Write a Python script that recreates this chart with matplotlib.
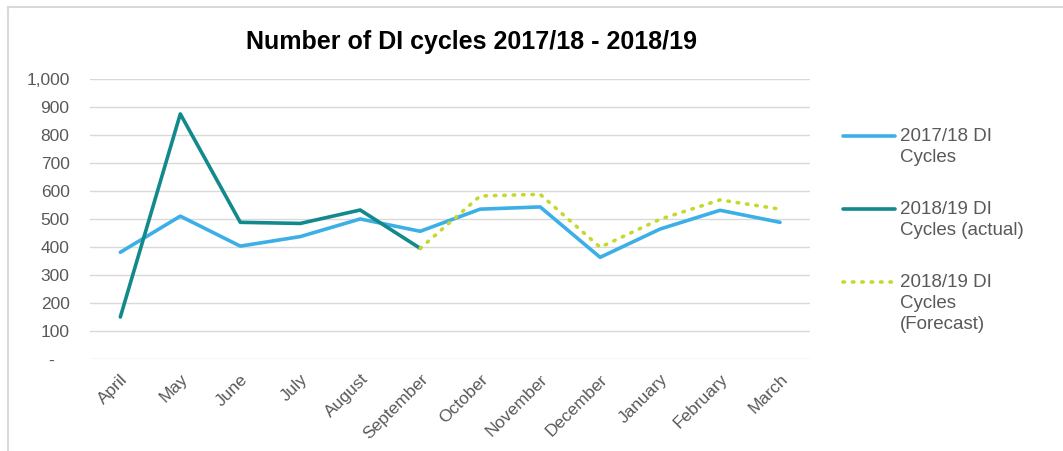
import matplotlib
matplotlib.use('Agg')
import matplotlib.pyplot as plt
from matplotlib.ticker import FuncFormatter
import numpy as np

plt.rcParams['font.family'] = ['Liberation Sans', 'DejaVu Sans']

months = ['April', 'May', 'June', 'July', 'August', 'September', 'October',
          'November', 'December', 'January', 'February', 'March']
cycles_1718 = [381, 510, 403, 437, 500, 456, 535, 543, 363, 464, 531, 488]
cycles_1819_actual = [150, 875, 488, 484, 532, 395]
cycles_1819_forecast = [395, 582, 588, 399, 499, 568, 535]   # September .. March

n = len(months)
actual = np.full(n, np.nan)
actual[:len(cycles_1819_actual)] = cycles_1819_actual
forecast = np.full(n, np.nan)
forecast[n - len(cycles_1819_forecast):] = cycles_1819_forecast
x = np.arange(n)

grey = '#595959'
fig = plt.figure(figsize=(10.63, 4.51), dpi=100)
ax = fig.add_axes([0.085, 0.204, 0.677, 0.621])

l1, = ax.plot(x, cycles_1718, color='#3CB0E6', lw=2.6, solid_capstyle='round',
              label='2017/18 DI\nCycles')
l2, = ax.plot(x, actual, color='#12898C', lw=2.6, solid_capstyle='round',
              label='2018/19 DI\nCycles (actual)')
l3, = ax.plot(x, forecast, color='#C5D92D', lw=2.6, linestyle=(0, (0.4, 2.2)),
              dash_capstyle='round', label='2018/19 DI\nCycles\n(Forecast)')

ax.set_xlim(-0.5, n - 0.5)
ax.set_ylim(0, 1000)
ax.set_yticks(np.arange(0, 1001, 100))
ax.yaxis.set_major_formatter(FuncFormatter(lambda v, p: '-   ' if v == 0 else f'{v:,.0f}'))
ax.set_xticks(x)
ax.set_xticklabels(months, rotation=45, ha='right', va='top', rotation_mode='anchor')
ax.grid(axis='y', color='#D9D9D9', lw=1)
ax.set_axisbelow(True)
for s in ax.spines.values():
    s.set_visible(False)
ax.tick_params(length=0, colors=grey, labelsize=12.5)
ax.tick_params(axis='y', pad=15)
ax.tick_params(axis='x', pad=9)

fig.text(0.444, 0.907, 'Number of DI cycles 2017/18 - 2018/19', ha='center', va='center',
         fontsize=18, fontweight='bold', color='black')

leg = fig.legend(handles=[l1, l2, l3], loc='upper left', bbox_to_anchor=(0.784, 0.738),
                 frameon=False, fontsize=13.5, labelcolor=grey, handlelength=2.8,
                 handletextpad=0.25, labelspacing=1.87, borderpad=0)
for t in leg.get_texts():
    t.set_linespacing(1.32)
# put each legend line beside the first line of its label
shift = [7.9, 7.9, 15.8]
for ln, d in zip(leg.get_lines(), shift):
    ln.set_ydata(np.asarray(ln.get_ydata()) + d)

# frame of the chart area
fig.add_artist(plt.Line2D([0.0075, 0.0075], [0, 0.9845], color='#D9D9D9', lw=1.5))
fig.add_artist(plt.Line2D([0.0075, 1], [0.9845, 0.9845], color='#D9D9D9', lw=1.5))

fig.savefig('out.png', dpi=100)
